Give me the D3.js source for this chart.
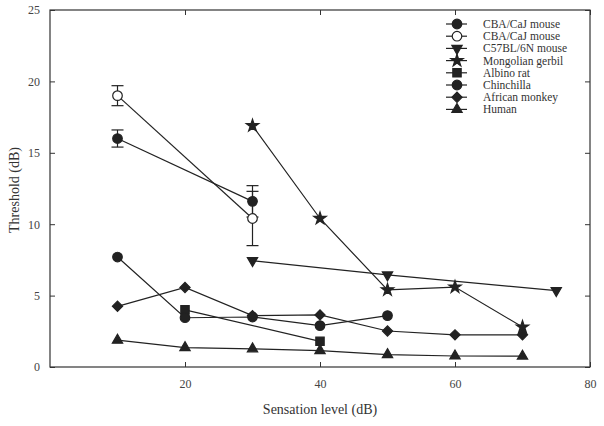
<!DOCTYPE html>
<html><head><meta charset="utf-8">
<script src="https://cdn.jsdelivr.net/npm/d3@7"></script>
<style>body{margin:0;background:#fff}svg{display:block}</style>
</head><body><svg id="c" width="604" height="426"></svg>
<script>
const seriesNames = ["CBA/CaJ mouse","CBA/CaJ mouse","C57BL/6N mouse","Mongolian gerbil","Albino rat","Chinchilla","African monkey","Human"];
const cbaFilledX = [10,30], cbaFilledY = [16.0,11.6], cbaFilledErr = [0.6,1.1];
const cbaOpenX = [10,30], cbaOpenY = [19.0,10.4], cbaOpenErr = [0.7,1.9];
const c57X = [30,50,75], c57Y = [7.45,6.45,5.35];
const gerbilX = [30,40,50,60,70], gerbilY = [16.9,10.4,5.4,5.6,2.8];
const ratX = [20,40], ratY = [4.0,1.8];
const chinX = [10,20,30,40,50], chinY = [7.7,3.45,3.5,2.9,3.6];
const monkeyX = [10,20,30,40,50,60,70], monkeyY = [4.25,5.57,3.6,3.65,2.52,2.25,2.25];
const humanX = [10,20,30,40,50,60,70], humanY = [1.88,1.36,1.27,1.15,0.87,0.77,0.76];
const xTicks = [20,40,60,80];
const yTicks = [0,5,10,15,20,25];

const svg = d3.select("#c");
const x = d3.scaleLinear().domain([0,80]).range([50,590]);
const y = d3.scaleLinear().domain([0,25]).range([367,10]);
const ink = "#222";
const font = "'Liberation Serif','Times New Roman',serif";

svg.append("rect").attr("x",50).attr("y",10).attr("width",540).attr("height",357)
  .attr("fill","none").attr("stroke","#333").attr("stroke-width",1.2);

const bx = svg.append("g").attr("transform","translate(0,367)")
  .call(d3.axisBottom(x).tickValues(xTicks).tickSize(-5).tickPadding(12).tickFormat(d3.format("d")));
const tx = svg.append("g").attr("transform","translate(0,10)")
  .call(d3.axisTop(x).tickValues(xTicks).tickSize(-5).tickFormat(""));
const ly = svg.append("g").attr("transform","translate(50,0)")
  .call(d3.axisLeft(y).tickValues(yTicks).tickSize(-5).tickPadding(10).tickFormat(d3.format("d")));
const ry = svg.append("g").attr("transform","translate(590,0)")
  .call(d3.axisRight(y).tickValues(yTicks).tickSize(-5).tickFormat(""));
[bx,tx,ly,ry].forEach(g=>{
  g.select(".domain").remove();
  g.selectAll(".tick line").attr("stroke","#333");
  g.selectAll("text").attr("font-family",font).attr("font-size",12).attr("fill","#444");
});

svg.append("text").attr("x",320).attr("y",414).attr("text-anchor","middle")
  .attr("font-family",font).attr("font-size",14).attr("fill","#333").text("Sensation level (dB)");
svg.append("text").attr("transform","translate(19,190) rotate(-90)").attr("text-anchor","middle")
  .attr("font-family",font).attr("font-size",14).attr("fill","#333").text("Threshold (dB)");

const sym = {
  circle: d3.symbol().type(d3.symbolCircle).size(72),
  star: d3.symbol().type(d3.symbolStar).size(48),
  square: d3.symbol().type(d3.symbolSquare).size(70),
  diamond: d3.symbol().type(d3.symbolSquare).size(52),
  tri: d3.symbol().type(d3.symbolTriangle).size(46)
};
const series = [
  {xs:cbaFilledX, ys:cbaFilledY, err:cbaFilledErr, s:"circle", fill:ink},
  {xs:cbaOpenX, ys:cbaOpenY, err:cbaOpenErr, s:"circle", fill:"#fff"},
  {xs:c57X, ys:c57Y, s:"tri", fill:ink, rot:180},
  {xs:gerbilX, ys:gerbilY, s:"star", fill:ink},
  {xs:ratX, ys:ratY, s:"square", fill:ink},
  {xs:chinX, ys:chinY, s:"circle", fill:ink},
  {xs:monkeyX, ys:monkeyY, s:"diamond", fill:ink, rot:45},
  {xs:humanX, ys:humanY, s:"tri", fill:ink}
];
const line = d3.line().x(d=>x(d[0])).y(d=>y(d[1]));
const gl = svg.append("g"), ge = svg.append("g"), gm = svg.append("g");
series.forEach(sr=>{
  const pts = sr.xs.map((v,i)=>[v,sr.ys[i]]);
  gl.append("path").attr("d",line(pts)).attr("fill","none").attr("stroke",ink).attr("stroke-width",1.2);
  if (sr.err) pts.forEach((p,i)=>{
    const e = sr.err[i], cx = x(p[0]);
    ge.append("line").attr("x1",cx).attr("x2",cx).attr("y1",y(p[1]-e)).attr("y2",y(p[1]+e)).attr("stroke",ink).attr("stroke-width",1.2);
    [p[1]-e,p[1]+e].forEach(v=>ge.append("line").attr("x1",cx-6).attr("x2",cx+6).attr("y1",y(v)).attr("y2",y(v)).attr("stroke",ink).attr("stroke-width",1.2));
  });
  pts.forEach(p=>{
    gm.append("path").attr("d",sym[sr.s]())
      .attr("transform",`translate(${x(p[0])},${y(p[1])})${sr.rot?` rotate(${sr.rot})`:""}`)
      .attr("fill",sr.fill).attr("stroke",ink).attr("stroke-width",1.2);
  });
});

const lg = svg.append("g");
series.forEach((sr,i)=>{
  const yy = 24 + i*12.2;
  lg.append("line").attr("x1",446).attr("x2",467).attr("y1",yy).attr("y2",yy).attr("stroke",ink).attr("stroke-width",1.2);
  lg.append("path").attr("d",sym[sr.s]())
    .attr("transform",`translate(457,${yy})${sr.rot?` rotate(${sr.rot})`:""}`)
    .attr("fill",sr.fill).attr("stroke",ink).attr("stroke-width",1.2);
  lg.append("text").attr("x",483).attr("y",yy+4).attr("font-family",font).attr("font-size",11.5)
    .attr("fill","#333").text(seriesNames[i]);
});
</script></body></html>
